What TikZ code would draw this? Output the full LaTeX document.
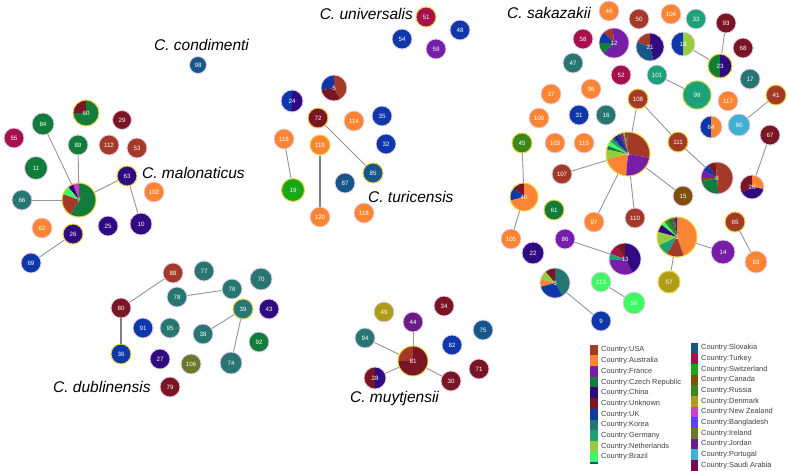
\documentclass[tikz,border=0pt]{standalone}
\usepackage{fontspec}
\setsansfont{Liberation Sans}
\definecolor{cUSA}{RGB}{163,58,40}
\definecolor{cAus}{RGB}{252,133,52}
\definecolor{cFra}{RGB}{118,30,168}
\definecolor{cCze}{RGB}{18,124,58}
\definecolor{cChi}{RGB}{48,10,128}
\definecolor{cUnk}{RGB}{122,22,36}
\definecolor{cUK}{RGB}{14,56,170}
\definecolor{cKor}{RGB}{40,118,114}
\definecolor{cGer}{RGB}{28,162,118}
\definecolor{cNet}{RGB}{150,204,64}
\definecolor{cBra}{RGB}{64,250,100}
\definecolor{cSlo}{RGB}{22,86,136}
\definecolor{cTur}{RGB}{166,16,76}
\definecolor{cSwi}{RGB}{22,168,22}
\definecolor{cCan}{RGB}{126,80,10}
\definecolor{cRus}{RGB}{60,134,30}
\definecolor{cDen}{RGB}{176,156,22}
\definecolor{cNZ}{RGB}{204,64,204}
\definecolor{cBan}{RGB}{90,64,255}
\definecolor{cIre}{RGB}{106,120,42}
\definecolor{cJor}{RGB}{108,28,136}
\definecolor{cPor}{RGB}{66,176,210}
\definecolor{cSau}{RGB}{122,10,82}
\definecolor{lav}{RGB}{228,206,238}
\definecolor{fnd}{RGB}{232,214,70}
\definecolor{edgec}{RGB}{150,150,150}
\newcommand\nfont{\sffamily\fontsize{6.2}{7}\selectfont}
\newcommand\spfont{\sffamily\itshape\fontsize{15.5}{17}\selectfont}
\newcommand\lgfont{\sffamily\fontsize{7.4}{8}\selectfont}
\newcommand\mypie[3]{\foreach \a/\b/\c in {#3}{\fill[\c] (#1) -- ++(\a:#2) arc[start angle=\a, end angle=\b, radius=#2] -- cycle;}}
\tikzset{
  nd/.style={circle, fill=#1, draw=lav, line width=0.8pt, minimum size=20pt, inner sep=0pt, text=white, font=\nfont},
  pn/.style={circle, draw=lav, line width=0.8pt, inner sep=0pt, text=white, font=\nfont},
  fd/.style={draw=fnd, line width=1pt},
  lk/.style={draw=edgec, line width=0.9pt},
  lkd/.style={draw=gray, line width=1.2pt},
  sp/.style={font=\spfont, anchor=west, inner sep=0pt},
  lg/.style={font=\lgfont, text=black!75, anchor=west, inner sep=0pt}
}
\begin{document}
\begin{tikzpicture}[x=1pt,y=1pt]
\fill[white] (0,0) rectangle (787,-471);
\useasboundingbox (0,0) rectangle (787,-471);

% ---------- C. malonaticus ----------
\mypie{86,-113}{13}{90/180/cUnk,180/450/cCze}
\node[pn,fd,minimum size=26pt] (n60) at (86,-113) {60};
\node[nd=cCze,minimum size=22pt] (n84) at (43,-124) {84};
\node[nd=cUnk,minimum size=19pt] (n29) at (122,-120) {29};
\node[nd=cTur] (n55) at (14,-138) {55};
\node[nd=cCze] (n89) at (78,-145) {89};
\node[nd=cUSA] (n112) at (109,-145) {112};
\node[nd=cUSA] (n53) at (137,-148) {53};
\node[nd=cCze,minimum size=23pt] (n11) at (36,-168) {11};
\node[nd=cChi,fd] (n63) at (127,-176) {63};
\mypie{79,-200}{17}{-120/90/cCze,90/110/cNZ,110/130/cChi,130/160/cBra,160/240/cUSA}
\node[pn,fd,minimum size=34pt] (n7) at (79,-200) {7};
\node[nd=cAus] (n102) at (154,-192) {102};
\node[nd=cKor] (n66) at (22,-200) {66};
\node[nd=cAus] (n62) at (42,-228) {62};
\node[nd=cChi] (n25) at (108,-226) {25};
\node[nd=cChi,minimum size=22pt] (n10) at (141,-224) {10};
\node[nd=cChi,fd] (n26) at (73,-234) {26};
\node[nd=cUK] (n69) at (31,-263) {69};
\node[sp] (lmal) at (142,-173) {C. malonaticus};
\draw[lk] (n84) -- (n7);
\draw[lk] (n89) -- (n7);
\draw[lk] (n66) -- (n7);
\draw[lk] (n7) -- (n63);
\draw[lk] (n63) -- (n10);
\draw[lk] (n26) -- (n69);

% ---------- C. dublinensis ----------
\node[nd=cUSA] (n88) at (173,-273) {88};
\node[nd=cKor] (n77) at (204,-271) {77};
\node[nd=cKor,minimum size=22pt] (n70) at (261,-279) {70};
\node[nd=cKor] (n76) at (232,-289) {76};
\node[nd=cKor] (n78) at (177,-297) {78};
\node[nd=cUnk] (n80) at (121,-308) {80};
\node[nd=cKor,fd] (n39) at (243,-309) {39};
\node[nd=cChi] (n43) at (269,-309) {43};
\node[nd=cUK] (n91) at (143,-328) {91};
\node[nd=cKor] (n95) at (170,-328) {95};
\node[nd=cKor] (n38) at (203,-334) {38};
\node[nd=cCze] (n92) at (259,-342) {92};
\node[nd=cUK,fd] (n36) at (121,-354) {36};
\node[nd=cChi] (n27) at (160,-359) {27};
\node[nd=cIre] (n106) at (191,-364) {106};
\node[nd=cKor,minimum size=22pt] (n74) at (231,-363) {74};
\node[nd=cUnk] (n79) at (170,-387) {79};
\node[sp] (ldub) at (53,-387) {C. dublinensis};
\draw[lk] (n88) -- (n80);
\draw[lkd] (n80) -- (n36);
\draw[lk] (n78) -- (n76);
\draw[lk] (n39) -- (n38);
\draw[lk] (n39) -- (n74);

% ---------- C. turicensis ----------
\mypie{334,-88}{13}{90/190/cUK,190/300/cUnk,300/450/cUSA}
\node[pn,minimum size=26pt] (n5) at (334,-88) {5};
\mypie{292,-101}{11}{90/270/cUK,-90/90/cChi}
\node[pn,minimum size=22pt] (n24) at (292,-101) {24};
\node[nd=cUnk,fd] (n72) at (318,-118) {72};
\node[nd=cAus] (n114) at (354,-121) {114};
\node[nd=cUK] (n35) at (382,-116) {35};
\node[nd=cAus] (n116) at (284,-139) {116};
\node[nd=cAus,fd] (n119) at (320,-145) {119};
\node[nd=cUK] (n32) at (386,-144) {32};
\node[nd=cSlo,fd] (n85) at (373,-173) {85};
\node[nd=cSlo] (n87) at (345,-183) {87};
\node[nd=cSwi,fd,minimum size=23pt] (n19) at (293,-190) {19};
\node[nd=cAus] (n118) at (364,-213) {118};
\node[nd=cAus] (n120) at (320,-217) {120};
\node[sp] (ltur) at (368,-197) {C. turicensis};
\draw[lk] (n116) -- (n19);
\draw[lkd] (n119) -- (n120);
\draw[lk] (n72) -- (n85);

% ---------- C. universalis ----------
\node[nd=cTur,fd] (n51) at (426,-17) {51};
\node[nd=cUK] (n48) at (460,-30) {48};
\node[nd=cUK] (n54) at (402,-39) {54};
\node[nd=cFra] (n59) at (436,-49) {59};
\node[sp,anchor=east] (luni) at (413,-14) {C. universalis};

% ---------- C. condimenti ----------
\node[nd=cSlo,minimum size=17pt] (n98) at (198,-65) {98};
\node[sp] (lcon) at (154,-45) {C. condimenti};

% ---------- C. muytjensii ----------
\node[nd=cDen] (n49) at (384,-312) {49};
\node[nd=cUnk] (n34) at (444,-306) {34};
\node[nd=cJor] (n44) at (413,-322) {44};
\node[nd=cSlo] (n75) at (483,-330) {75};
\node[nd=cKor] (n94) at (365,-338) {94};
\node[nd=cUK] (n82) at (452,-345) {82};
\mypie{413,-361}{15}{90/180/cUSA,180/450/cUnk}
\node[pn,fd,minimum size=30pt] (n81) at (413,-361) {81};
\node[nd=cUnk] (n71) at (479,-369) {71};
\mypie{375,-378}{11}{90/270/cUnk,-90/90/cChi}
\node[pn,minimum size=22pt] (n28) at (375,-378) {28};
\node[nd=cUnk] (n30) at (451,-381) {30};
\node[sp] (lmuy) at (350,-398) {C. muytjensii};
\draw[lk] (n81) -- (n44);
\draw[lk] (n81) -- (n94);
\draw[lk] (n81) -- (n28);
\draw[lk] (n81) -- (n30);

% ---------- C. sakazakii ----------
\node[nd=cAus] (n46) at (609,-11) {46};
\node[nd=cUSA] (n50) at (639,-19) {50};
\node[nd=cAus] (n104) at (671,-14) {104};
\node[nd=cGer] (n33) at (696,-19) {33};
\node[nd=cUnk] (n93) at (726,-23) {93};
\node[nd=cTur] (n58) at (583,-39) {58};
\mypie{614,-43}{15}{95/135/cUSA,135/180/cUK,180/225/cCze,225/455/cFra}
\node[pn,minimum size=30pt] (n12) at (614,-43) {12};
\mypie{650,-47}{14}{-75/90/cChi,90/160/cUSA,160/285/cSlo}
\node[pn,minimum size=28pt] (n21) at (650,-47) {21};
\mypie{683,-44}{12}{90/270/cUK,-90/90/cNet}
\node[pn,minimum size=24pt] (n18) at (683,-44) {18};
\node[nd=cUnk] (n68) at (743,-48) {68};
\node[nd=cKor] (n47) at (573,-63) {47};
\mypie{720,-66}{12}{90/270/cCze,-90/90/cChi}
\node[pn,fd,minimum size=24pt] (n23) at (720,-66) {23};
\node[nd=cTur] (n52) at (621,-75) {52};
\node[nd=cGer] (n101) at (657,-75) {101};
\node[nd=cKor] (n17) at (750,-79) {17};
\node[nd=cAus] (n37) at (551,-94) {37};
\node[nd=cAus] (n96) at (591,-89) {96};
\node[nd=cGer,fd,draw=cNet!60!fnd,minimum size=28pt] (n99) at (697,-95) {99};
\node[nd=cAus] (n117) at (728,-101) {117};
\node[nd=cUSA,fd] (n41) at (776,-95) {41};
\node[nd=cUSA,fd] (n108) at (638,-99) {108};
\node[nd=cAus] (n100) at (539,-118) {100};
\node[nd=cUK] (n31) at (579,-115) {31};
\node[nd=cKor] (n16) at (606,-115) {16};
\mypie{711,-127}{11}{90/270/cUK,-90/90/cAus}
\node[pn,minimum size=22pt] (n64) at (711,-127) {64};
\node[nd=cPor,minimum size=22pt] (n90) at (739,-125) {90};
\node[nd=cUnk] (n67) at (770,-135) {67};
\node[nd=cRus,fd] (n45) at (522,-143) {45};
\node[nd=cAus] (n103) at (555,-143) {103};
\node[nd=cAus] (n115) at (584,-143) {115};
\node[nd=cUSA,fd] (n111) at (678,-142) {111};
\mypie{628,-154}{22}{-10/92/cUSA,92/96/cUnk,96/100/cIre,100/104/cDen,104/108/cJor,108/112/cTur,112/122/cUK,122/130/cChi,130/136/cSlo,136/146/cGer,146/158/cBra,158/168/cCze,168/195/cNet,195/265/cAus,265/350/cFra}
\node[pn,fd,minimum size=44pt] (n4) at (628,-154) {4};
\node[nd=cUSA] (n107) at (562,-174) {107};
\mypie{717,-178}{16}{95/125/cUnk,125/150/cUK,150/180/cFra,180/192/cCan,192/275/cCze,275/455/cUSA}
\node[pn,minimum size=32pt] (n8) at (717,-178) {8};
\mypie{524,-197}{14}{90/140/cUnk,140/195/cUK,195/450/cAus}
\node[pn,fd,minimum size=28pt] (n40) at (524,-197) {40};
\mypie{752,-187}{12}{-10/90/cAus,90/210/cUnk,210/350/cChi}
\node[pn,minimum size=24pt] (n20) at (752,-187) {20};
\node[nd=cCan] (n15) at (683,-196) {15};
\node[nd=cCze,fd] (n61) at (554,-210) {61};
\node[nd=cUSA] (n110) at (635,-218) {110};
\node[nd=cAus] (n97) at (594,-222) {97};
\node[nd=cUSA,fd] (n65) at (735,-222) {65};
\mypie{677,-237}{20}{-70/90/cAus,90/97/cUK,97/104/cUSA,104/118/cCze,118/130/cRus,130/142/cBra,142/165/cChi,165/205/cNet,205/240/cGer,240/290/cUSA}
\node[pn,fd,minimum size=40pt] (n1) at (677,-237) {1};
\node[nd=cAus] (n105) at (511,-239) {105};
\node[nd=cFra] (n86) at (565,-239) {86};
\node[nd=cFra,minimum size=24pt] (n14) at (723,-252) {14};
\node[nd=cChi,minimum size=22pt] (n22) at (533,-253) {22};
\mypie{625,-259}{16}{90/125/cUnk,125/160/cTur,160/185/cGer,185/300/cFra,300/450/cChi}
\node[pn,minimum size=32pt] (n13) at (625,-259) {13};
\node[nd=cAus,minimum size=22pt] (n83) at (756,-262) {83};
\mypie{555,-283}{15}{-60/90/cKor,90/130/cUnk,130/165/cNet,165/195/cAus,195/300/cUK}
\node[pn,minimum size=30pt] (n3) at (555,-283) {3};
\node[nd=cBra] (n113) at (601,-282) {113};
\node[nd=cDen,fd,minimum size=22pt] (n57) at (669,-282) {57};
\node[nd=cBra,minimum size=22pt] (n56) at (634,-303) {56};
\node[nd=cUK] (n9) at (601,-321) {9};
\node[sp] (lsak) at (507,-13) {C. sakazakii};
\draw[lk] (n93) -- (n23);
\draw[lk] (n18) -- (n23);
\draw[lk] (n101) -- (n99);
\draw[lk] (n41) -- (n90);
\draw[lk] (n108) -- (n4);
\draw[lk] (n108) -- (n111);
\draw[lk] (n111) -- (n8);
\draw[lk] (n67) -- (n20);
\draw[lk] (n4) -- (n107);
\draw[lk] (n4) -- (n97);
\draw[lk] (n4) -- (n110);
\draw[lk] (n4) -- (n15);
\draw[lk] (n45) -- (n40);
\draw[lk] (n40) -- (n105);
\draw[lk] (n65) -- (n83);
\draw[lk] (n1) -- (n14);
\draw[lk] (n1) -- (n57);
\draw[lk] (n86) -- (n13);
\draw[lk] (n3) -- (n9);
\draw[lk] (n113) -- (n56);

% ---------- legend ----------
\foreach \c/\t [count=\i from 0] in {cUSA/USA,cAus/Australia,cFra/France,cCze/Czech Republic,cChi/China,cUnk/Unknown,cUK/UK,cKor/Korea,cGer/Germany,cNet/Netherlands,cBra/Brazil}{
  \fill[\c] (590,{-350+5.35-10.7*\i}) rectangle (598,{-350-5.35-10.7*\i});
  \node[lg] (lgL\i) at (601,{-350-10.7*\i}) {Country:\t};
}
\fill[cSlo] (590,-461.8) rectangle (598,-463.6);
\foreach \c/\t [count=\i from 0] in {cSlo/Slovakia,cTur/Turkey,cSwi/Switzerland,cCan/Canada,cRus/Russia,cDen/Denmark,cNZ/New Zealand,cBan/Bangladesh,cIre/Ireland,cJor/Jordan,cPor/Portugal,cSau/Saudi Arabia}{
  \fill[\c] (691,{-348+5.35-10.67*\i}) rectangle (698,{-348-5.35-10.67*\i});
  \node[lg] (lgR\i) at (701,{-348-10.67*\i}) {Country:\t};
}
\end{tikzpicture}
\end{document}
